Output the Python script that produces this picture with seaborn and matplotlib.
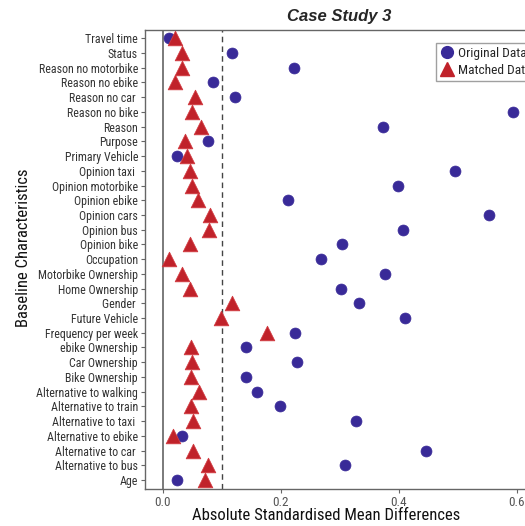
import pandas as pd
import numpy as np
import matplotlib
matplotlib.use("Agg")
import matplotlib.pyplot as plt
import seaborn as sns

# characteristics, top to bottom
characteristics = [
    "Travel time", "Status", "Reason no motorbike", "Reason no ebike", "Reason no car ",
    "Reason no bike", "Reason", "Purpose", "Primary Vehicle", "Opinion taxi ",
    "Opinion motorbike", "Opinion ebike", "Opinion cars", "Opinion bus", "Opinion bike",
    "Occupation", "Motorbike Ownership", "Home Ownership", "Gender ", "Future Vehicle",
    "Frequency per week", "ebike Ownership", "Car Ownership", "Bike Ownership",
    "Alternative to walking", "Alternative to train", "Alternative to taxi ",
    "Alternative to ebike", "Alternative to car ", "Alternative to bus", "Age",
]
original_smd = [
    0.011, 0.118, 0.222, 0.085, 0.122, 0.594, 0.374, 0.077, 0.024, 0.496,
    0.399, 0.212, 0.553, 0.407, 0.304, 0.269, 0.377, 0.303, 0.333, 0.411,
    0.224, 0.142, 0.228, 0.142, 0.160, 0.198, 0.327, 0.032, 0.446, 0.309, 0.025,
]
matched_smd = [
    0.020, 0.033, 0.032, 0.020, 0.055, 0.050, 0.065, 0.038, 0.042, 0.046,
    0.049, 0.060, 0.081, 0.078, 0.046, 0.010, 0.032, 0.047, 0.118, 0.098,
    0.176, 0.048, 0.049, 0.048, 0.061, 0.048, 0.052, 0.017, 0.051, 0.077, 0.072,
]
threshold = 0.1

df_orig = pd.DataFrame({"var": characteristics, "smd": original_smd})
df_match = pd.DataFrame({"var": characteristics, "smd": matched_smd})

sns.set_style("white")
plt.rcParams["font.family"] = ["Roboto Condensed", "Roboto", "DejaVu Sans"]

blue = "#392a98"
red = "#c0222a"

fig = plt.figure(figsize=(5.25, 5.26), dpi=100)
W, H = 525, 526
left, right, top, bottom = 145, 540, 30, 488.7
ax = fig.add_axes([left / W, 1 - bottom / H, (right - left) / W, (bottom - top) / H])

ax.axvline(0, color="#7a7a7a", lw=1.4, zorder=1)
ax.axvline(threshold, color="#444444", lw=1.0, ls=(0, (4, 3)), zorder=1)

sns.scatterplot(data=df_orig, x="smd", y="var", ax=ax, color=blue, marker="o",
                s=62, edgecolor=blue, linewidth=0.5, zorder=3, legend=False)
sns.scatterplot(data=df_match, x="smd", y="var", ax=ax, color=red, marker="^",
                s=110, edgecolor="#d23a40", linewidth=0.6, zorder=4, legend=False)

ax.set_xlim(-0.030, (right - 162.7) / 590)
ax.set_ylim(len(characteristics) - 1 + 0.59, -0.56)
ax.set_xticks([0.0, 0.2, 0.4, 0.6])
ax.set_xticklabels(["0.0", "0.2", "0.4", "0.6"])

for sp in ax.spines.values():
    sp.set_color("#666666")
    sp.set_linewidth(1.0)

ax.tick_params(axis="both", which="both", length=3, width=0.8, color="#666666",
               labelcolor="#333333", labelsize=8.6, left=True, bottom=True, pad=2)
ax.tick_params(axis="x", labelcolor="#555555", labelsize=9.5)

ax.set_xlabel("Absolute Standardised Mean Differences", fontsize=12, color="#111111")
ax.xaxis.set_label_coords((326.5 - left) / (right - left), -0.041)
ax.set_ylabel("Baseline Characteristics", fontsize=12, color="#111111")
ax.yaxis.set_label_coords(-(left - 31) / (right - left), 0.526)

fig.text(339.5 / W, 1 - 16 / H, "Case Study 3", ha="center", va="center",
         fontsize=12, fontweight="bold", fontstyle="italic",
         family=["Liberation Sans", "DejaVu Sans"])

handles = [
    plt.Line2D([], [], marker="o", color=blue, ls="", markersize=8.5),
    plt.Line2D([], [], marker="^", color=red, ls="", markersize=10),
]
leg = ax.legend(handles, ["Original Data", "Matched Data"], loc="upper left",
                bbox_to_anchor=((436 - left) / (right - left), 1 - (43 - top) / (bottom - top)),
                frameon=True, fancybox=False, fontsize=9.6, handletextpad=0.35,
                borderpad=0.3, labelspacing=0.3, handlelength=1.0, borderaxespad=0)
leg.get_frame().set_edgecolor("#888888")
leg.get_frame().set_linewidth(1.0)

fig.savefig("out.png", dpi=100)
